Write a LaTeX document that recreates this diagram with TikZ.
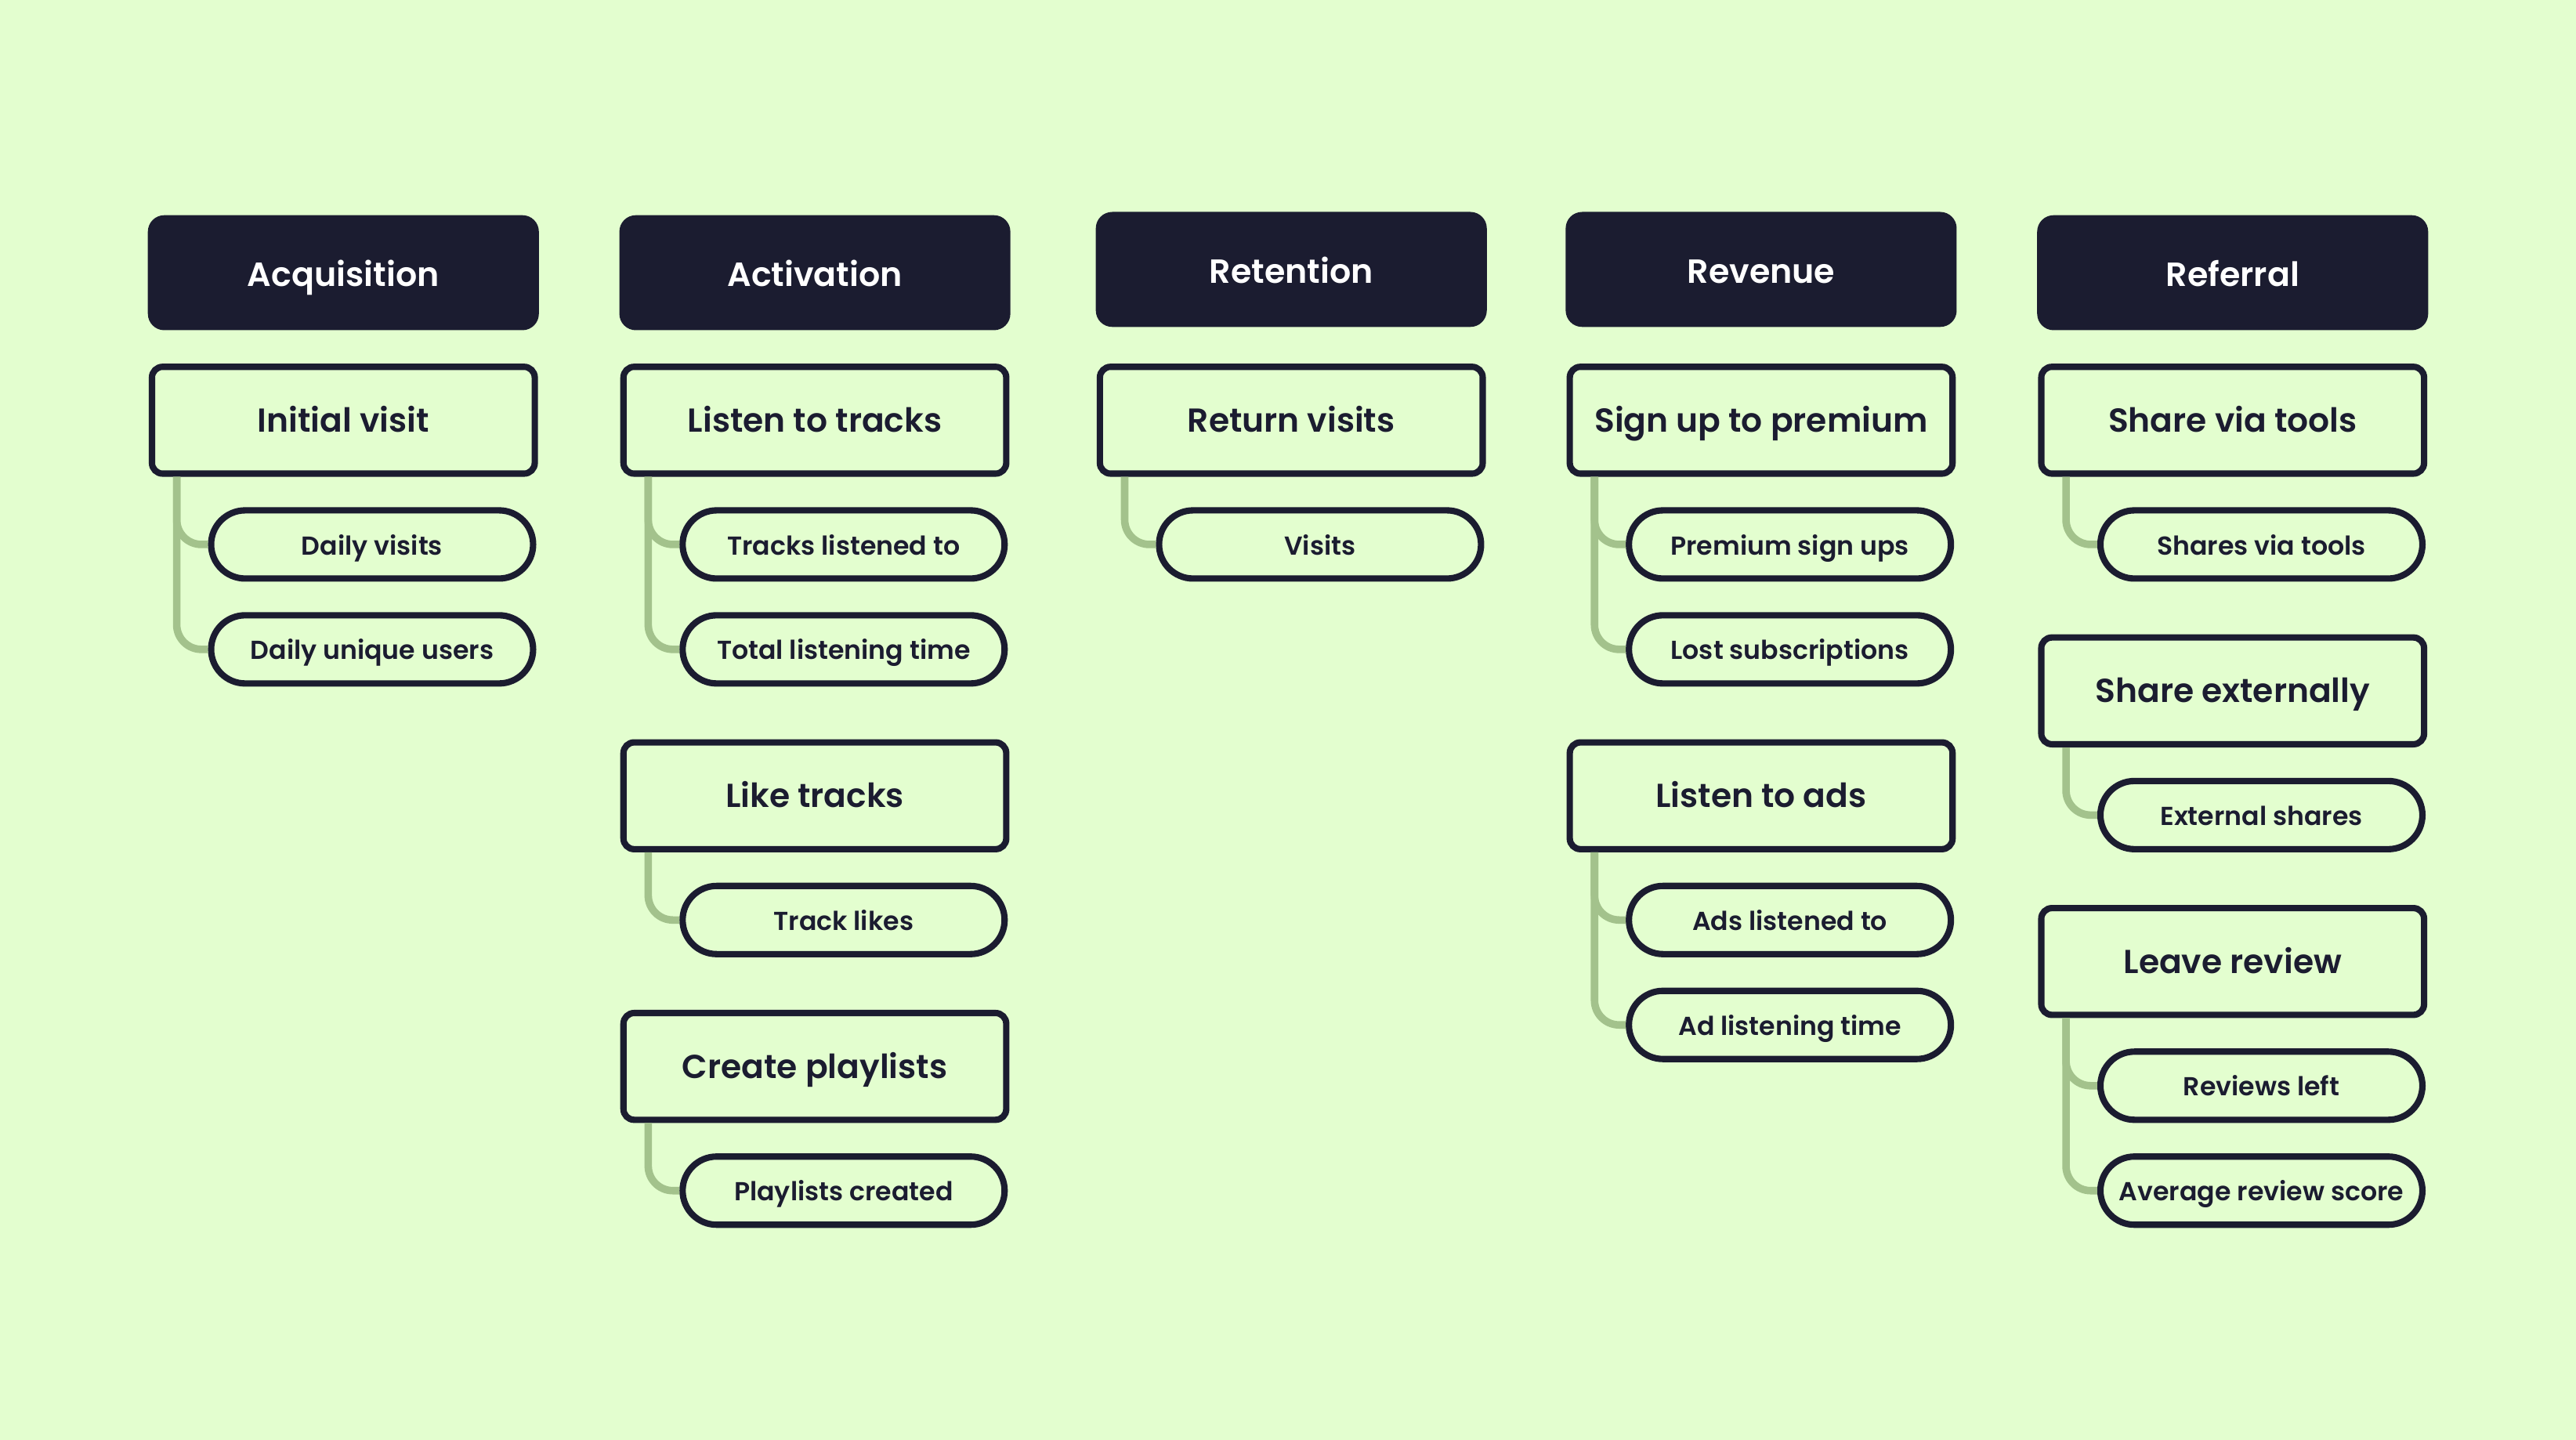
\documentclass[tikz,border=0pt]{standalone}
\usepackage{fontspec}
\setmainfont{Poppins}[BoldFont={* SemiBold}]
\usepackage{tikz}
\usetikzlibrary{positioning}

\definecolor{bgmint}{HTML}{E3FECF}
\definecolor{ink}{HTML}{1B1C30}
\definecolor{sage}{HTML}{A3C28C}

\begin{document}
\begin{tikzpicture}[
  node distance=3.7mm,
  stage/.style={fill=ink, rounded corners=2mm, minimum width=47.6mm, minimum height=14mm, inner sep=1mm, text=white, text height=2ex, text depth=0.3ex, font=\bfseries\fontsize{11.6}{14}\selectfont},
  action/.style={draw=ink, line width=2.2pt, rounded corners=1.3mm, fill=bgmint, minimum width=46.6mm, minimum height=13mm, inner sep=1mm, text=ink, text height=1.9ex, text depth=0.4ex, font=\bfseries\fontsize{11.5}{14}\selectfont},
  metric/.style={draw=ink, line width=2.2pt, rounded corners=4.15mm, fill=bgmint, minimum width=39.2mm, minimum height=8.3mm, inner sep=1mm, text=ink, text height=1.7ex, text depth=0.4ex, font=\bfseries\fontsize{9}{11}\selectfont},
  link/.style={draw=sage, line width=2.6pt, rounded corners=3mm}
]

% canvas
\fill[bgmint] (0,0) rectangle (31.36,-17.53);
\useasboundingbox (0,0) rectangle (31.36,-17.53);

% stages
\node[stage] (acq) at (4.18,-3.32) {Acquisition};
\node[stage] (act) at (9.92,-3.32) {Activation};
\node[stage] (ret) at (15.72,-3.28) {Retention};
\node[stage] (rev) at (21.44,-3.28) {Revenue};
\node[stage] (ref) at (27.18,-3.32) {Referral};

% acquisition
\node[action, below=4mm of acq] (iv) {Initial visit};
\node[metric, below=of iv, xshift=3.5mm] (dvis) {Daily visits};
\node[metric, below=of dvis] (duniq) {Daily unique users};

% activation
\node[action, below=4mm of act] (ltt) {Listen to tracks};
\node[metric, below=of ltt, xshift=3.5mm] (tlist) {Tracks listened to};
\node[metric, below=of tlist] (ttime) {Total listening time};
\node[action, below=6.4mm of ttime, xshift=-3.5mm] (lt) {Like tracks};
\node[metric, below=of lt, xshift=3.5mm] (tlikes) {Track likes};
\node[action, below=6.4mm of tlikes, xshift=-3.5mm] (cp) {Create playlists};
\node[metric, below=of cp, xshift=3.5mm] (plcr) {Playlists created};

% retention
\node[action, below=4.4mm of ret] (rv) {Return visits};
\node[metric, below=of rv, xshift=3.5mm] (visits) {Visits};

% revenue
\node[action, below=4.4mm of rev] (sup) {Sign up to premium};
\node[metric, below=of sup, xshift=3.5mm] (psign) {Premium sign ups};
\node[metric, below=of psign] (lsubs) {Lost subscriptions};
\node[action, below=6.4mm of lsubs, xshift=-3.5mm] (lta) {Listen to ads};
\node[metric, below=of lta, xshift=3.5mm] (adsl) {Ads listened to};
\node[metric, below=of adsl] (adtime) {Ad listening time};

% referral
\node[action, below=4mm of ref] (svt) {Share via tools};
\node[metric, below=of svt, xshift=3.5mm] (shtools) {Shares via tools};
\node[action, below=6.4mm of shtools, xshift=-3.5mm] (se) {Share externally};
\node[metric, below=of se, xshift=3.5mm] (extsh) {External shares};
\node[action, below=6.4mm of extsh, xshift=-3.5mm] (lr) {Leave review};
\node[metric, below=of lr, xshift=3.5mm] (revleft) {Reviews left};
\node[metric, below=of revleft] (avgrev) {Average review score};

% links
\draw[link] ([xshift=3.4mm]iv.south west) |- (dvis.west);
\draw[link] ([xshift=3.4mm]iv.south west) |- (duniq.west);
\draw[link] ([xshift=3.4mm]ltt.south west) |- (tlist.west);
\draw[link] ([xshift=3.4mm]ltt.south west) |- (ttime.west);
\draw[link] ([xshift=3.4mm]lt.south west) |- (tlikes.west);
\draw[link] ([xshift=3.4mm]cp.south west) |- (plcr.west);
\draw[link] ([xshift=3.4mm]rv.south west) |- (visits.west);
\draw[link] ([xshift=3.4mm]sup.south west) |- (psign.west);
\draw[link] ([xshift=3.4mm]sup.south west) |- (lsubs.west);
\draw[link] ([xshift=3.4mm]lta.south west) |- (adsl.west);
\draw[link] ([xshift=3.4mm]lta.south west) |- (adtime.west);
\draw[link] ([xshift=3.4mm]svt.south west) |- (shtools.west);
\draw[link] ([xshift=3.4mm]se.south west) |- (extsh.west);
\draw[link] ([xshift=3.4mm]lr.south west) |- (revleft.west);
\draw[link] ([xshift=3.4mm]lr.south west) |- (avgrev.west);

\end{tikzpicture}
\end{document}
